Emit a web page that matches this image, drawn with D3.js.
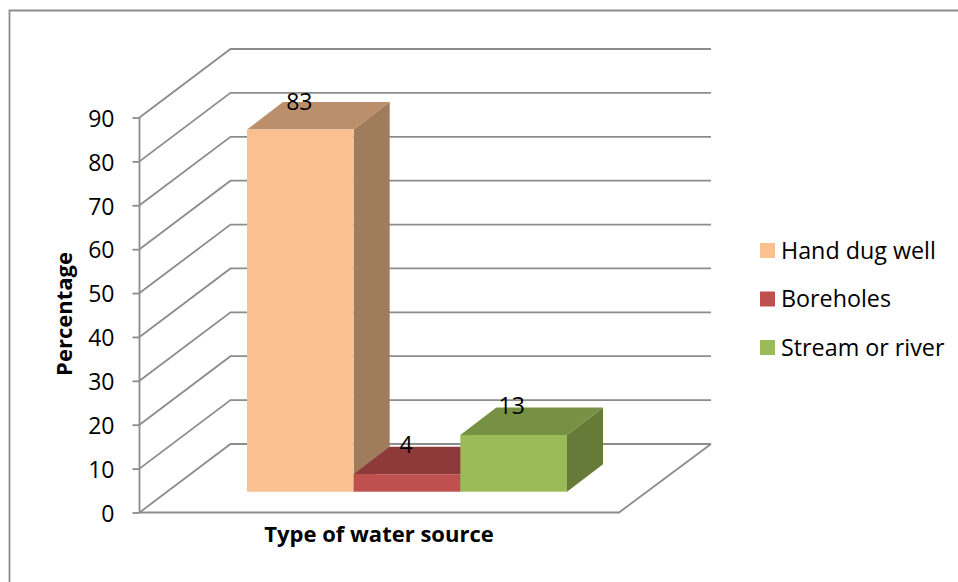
<!DOCTYPE html>
<html><head><meta charset="utf-8">
<script src="https://d3js.org/d3.v7.min.js"></script>
<style>html,body{margin:0;padding:0;background:#fff}svg{display:block}text{font-family:"Open Sans",sans-serif;fill:#000}</style>
</head><body><svg id="c" width="958" height="582"></svg>
<script>
const categories = ["Hand dug well","Boreholes","Stream or river"];
const values = [83,4,13];
const frontColors = ["#FAC090","#C0504D","#9BBB59"];
const topColors = ["#BB8F6C","#8F3A3A","#769143"];
const sideColors = ["#9F7C5B","#7A3230","#657B37"];
const tickValues = [0,10,20,30,40,50,60,70,80,90];
const xTitle = "Type of water source";
const yTitle = "Percentage";

const svg = d3.select("#c");
const grid = "#8c8c8c";
svg.append("path").attr("d","M9.5,582V10.5H958").attr("fill","none").attr("stroke",grid).attr("stroke-width",1.8);

const y = d3.scaleLinear().domain([0,90]).range([512.5,117.5]);
const wallDx = 91, wallDy = -68.5, wallRight = 711, floorRight = 619, axisX = 139.5;

const gl = svg.append("g").attr("fill","none").attr("stroke",grid).attr("stroke-width",1.8);
gl.selectAll("path").data(tickValues).join("path")
  .attr("d",t=>`M${axisX},${y(t)}L${axisX+wallDx},${y(t)+wallDy}H${wallRight}`);
gl.append("path").attr("d",`M${wallRight},${y(0)+wallDy}L${floorRight},${y(0)}H${axisX}`);

const ax = svg.append("g").attr("transform",`translate(${axisX},0)`)
  .call(d3.axisLeft(y).tickValues(tickValues).tickSize(7).tickPadding(18).tickFormat(d3.format("d")));
ax.selectAll("path,line").attr("stroke",grid).attr("stroke-width",1.8);
ax.select(".domain").attr("d",`M0,${y(90)}V${y(0)}`);
ax.selectAll("text").style("font-family",'"Open Sans",sans-serif').style("font-size","23px").attr("dy","0.38em");

const bx = d3.scaleBand().domain(categories).range([247,567]).padding(0);
const by = d3.scaleLinear().domain([0,90]).range([491.7,99]);
const dx = 36, dy = -27.5;
const bars = svg.append("g");
categories.forEach((c,i)=>{
  const x0=bx(c), x1=x0+bx.bandwidth(), t=by(values[i]), b=by(0);
  const g=bars.append("g");
  g.append("path").attr("fill",sideColors[i]).attr("d",`M${x1},${t}L${x1+dx},${t+dy}V${b+dy}L${x1},${b}Z`);
  g.append("path").attr("fill",topColors[i]).attr("d",`M${x0},${t}L${x0+dx},${t+dy}H${x1+dx}L${x1},${t}Z`);
  g.append("rect").attr("fill",frontColors[i]).attr("x",x0).attr("y",t).attr("width",bx.bandwidth()).attr("height",b-t);
});
svg.append("g").selectAll("text").data(values).join("text")
  .attr("x",(d,i)=>bx(categories[i])+bx.bandwidth()/2+dx+[-37,-37,-38][i])
  .attr("y",(d,i)=>by(d)+dy+[8,6,7][i])
  .attr("text-anchor","middle").style("font-size","23px").text(d=>d);

svg.append("text").attr("x",379).attr("y",542).attr("text-anchor","middle")
  .style("font-size","22px").style("font-weight","700").text(xTitle);
svg.append("text").attr("transform","translate(72,314) rotate(-90)").attr("text-anchor","middle")
  .style("font-size","22px").style("font-weight","700").text(yTitle);

const ly = d3.scalePoint().domain(categories).range([250.5,347.5]);
const leg = svg.append("g").selectAll("g").data(categories).join("g")
  .attr("transform",d=>`translate(760,${ly(d)})`);
leg.append("rect").attr("x",0).attr("y",-7.5).attr("width",15).attr("height",15).attr("fill",(d,i)=>frontColors[i]);
leg.append("text").attr("x",21).attr("y",8).style("font-size","23.3px").text(d=>d);
</script></body></html>
